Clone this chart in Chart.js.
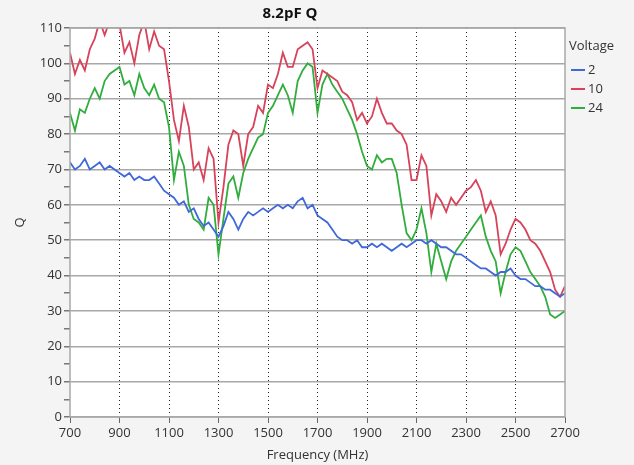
<!DOCTYPE html>
<html>
<head>
<meta charset="utf-8">
<script src="https://cdn.jsdelivr.net/npm/chart.js@4.4.0/dist/chart.umd.min.js"></script>
<style>
    html, body { margin: 0; padding: 0; background: #f4f4f4; }
    #wrap { width: 634px; height: 465px; }
</style>
</head>
<body>
<div id="wrap"><canvas id="qChart" width="634" height="465"></canvas></div>
<script>
// Q vs frequency, 8.2pF, three bias voltages (one value every 20 MHz, 700..2700)
const voltages = ['2', '10', '24'];
const freqStart = 700;
const freqStep = 20;
const xTicks = [700, 900, 1100, 1300, 1500, 1700, 1900, 2100, 2300, 2500, 2700];

const q2 = [
    72, 70, 71, 73, 70, 71, 72, 70, 71, 70,
    69, 68, 69, 67, 68, 67, 67, 68, 66, 64,
    63, 62, 60, 61, 58, 59, 56, 54, 55, 53,
    51, 54, 58, 56, 53, 56, 58, 57, 58, 59,
    58, 59, 60, 59, 60, 59, 61, 62, 59, 60,
    57, 56, 55, 53, 51, 50, 50, 49, 50, 48,
    48, 49, 48, 49, 48, 47, 48, 49, 48, 49,
    50, 50, 49, 50, 49, 48, 48, 47, 46, 46,
    45, 44, 43, 42, 42, 41, 40, 41, 41, 42,
    40, 39, 39, 38, 37, 37, 36, 36, 35, 34,
    35
];
const q10 = [
    103, 97, 101, 98, 104, 107, 112, 108, 112, 113,
    111, 103, 106, 100, 108, 112, 104, 109, 105, 104,
    95, 84, 78, 88, 82, 70, 72, 67, 76, 73,
    55, 65, 77, 81, 80, 71, 80, 82, 88, 86,
    94, 93, 97, 103, 99, 99, 104, 105, 106, 104,
    93, 98, 97, 96, 95, 92, 91, 89, 84, 86,
    83, 85, 90, 86, 83, 83, 81, 80, 77, 67,
    67, 74, 71, 57, 63, 61, 58, 62, 60, 62,
    64, 65, 67, 64, 58, 61, 57, 46, 49, 53,
    56, 55, 53, 50, 49, 47, 44, 41, 36, 34,
    37
];
const q24 = [
    86, 81, 87, 86, 90, 93, 90, 95, 97, 98,
    99, 94, 95, 91, 97, 93, 91, 94, 90, 89,
    82, 67, 75, 71, 60, 56, 55, 53, 62, 60,
    46, 56, 66, 68, 62, 69, 73, 76, 79, 80,
    86, 88, 91, 94, 91, 86, 95, 98, 100, 99,
    86, 94, 97, 94, 92, 90, 87, 84, 80, 75,
    71, 70, 74, 72, 73, 73, 69, 60, 52, 50,
    53, 59, 52, 41, 49, 44, 39, 44, 47, 49,
    51, 53, 55, 57, 51, 47, 44, 35, 41, 46,
    48, 47, 44, 41, 39, 37, 34, 29, 28, 29,
    30
];

const seriesColors = ['#4068d8', '#d8425a', '#30ad3c'];

function toPoints(values) {
    return values.map((v, i) => ({ x: freqStart + i * freqStep, y: v }));
}

const fontFamily = '"Open Sans", "Noto Sans", sans-serif';

// background: grey page, white plot area, grey frame, title and legend
const plotBg = {
    id: 'plotBg',
    beforeDraw(chart) {
        const { ctx, chartArea: a } = chart;
        ctx.save();
        ctx.fillStyle = '#f4f4f4';
        ctx.fillRect(0, 0, chart.width, chart.height);
        ctx.fillStyle = '#ffffff';
        ctx.fillRect(a.left, a.top, a.right - a.left, a.bottom - a.top);
        ctx.restore();
    },
    afterDraw(chart) {
        const { ctx, chartArea: a } = chart;
        ctx.save();
        ctx.strokeStyle = '#a8a8a8';
        ctx.lineWidth = 1.5;
        ctx.strokeRect(a.left, a.top, a.right - a.left, a.bottom - a.top);

        // title
        ctx.fillStyle = '#111';
        ctx.font = 'bold 15px ' + fontFamily;
        ctx.textAlign = 'center';
        ctx.textBaseline = 'middle';
        ctx.fillText('8.2pF Q', 290, 14);

        // legend
        ctx.textAlign = 'left';
        ctx.font = '13px ' + fontFamily;
        ctx.fillStyle = '#333';
        ctx.fillText('Voltage', 569, 46);
        chart.data.datasets.forEach((ds, i) => {
            const y = 70 + i * 19;
            ctx.strokeStyle = ds.borderColor;
            ctx.lineWidth = 2;
            ctx.beginPath();
            ctx.moveTo(571, y);
            ctx.lineTo(585, y);
            ctx.stroke();
            ctx.fillStyle = '#333';
            ctx.fillText(ds.label, 588, y);
        });
        ctx.restore();
    }
};

const ctx = document.getElementById('qChart').getContext('2d');
new Chart(ctx, {
    type: 'line',
    data: {
        datasets: voltages.map((v, i) => ({
            label: v,
            data: toPoints([q2, q10, q24][i]),
            borderColor: seriesColors[i],
            backgroundColor: seriesColors[i],
            borderWidth: 1.8,
            pointRadius: 0,
            tension: 0
        }))
    },
    options: {
        responsive: false,
        animation: false,
        devicePixelRatio: 1,
        layout: { padding: { left: 0, top: 28, right: 69, bottom: 0 } },
        plugins: {
            legend: { display: false },
            title: { display: false },
            tooltip: { enabled: false }
        },
        scales: {
            x: {
                type: 'linear',
                min: 700,
                max: 2700,
                afterBuildTicks(scale) {
                    scale.ticks = xTicks.map(v => ({ value: v }));
                },
                afterFit(scale) { scale.height = 48; },
                grid: {
                    color: c => (c.tick && (c.tick.value === 700 || c.tick.value === 2700)) ? 'rgba(0,0,0,0)' : '#222',
                    lineWidth: 1,
                    tickColor: '#666',
                    tickLength: 6
                },
                border: { display: false, dash: [1, 3] },
                ticks: {
                    autoSkip: false,
                    maxRotation: 0,
                    padding: 2,
                    color: '#333',
                    font: { family: fontFamily, size: 13 },
                    callback: v => String(v)
                },
                title: {
                    display: true,
                    text: 'Frequency (MHz)',
                    color: '#333',
                    padding: { top: 0, bottom: 2 },
                    font: { family: fontFamily, size: 13 }
                }
            },
            y: {
                min: 0,
                max: 110,
                afterFit(scale) { scale.width = 70; },
                grid: {
                    color: c => (c.tick && c.tick.value % 10 === 0) ? '#a8a8a8' : 'rgba(0,0,0,0)',
                    lineWidth: 1.5,
                    tickColor: '#777',
                    tickLength: 6
                },
                border: { display: false },
                ticks: {
                    stepSize: 5,
                    autoSkip: false,
                    padding: 2,
                    color: '#333',
                    font: { family: fontFamily, size: 13 },
                    callback: v => (v % 10 === 0 ? String(v) : '')
                },
                title: {
                    display: true,
                    text: 'Q',
                    color: '#333',
                    padding: { top: 12, bottom: 0 },
                    font: { family: fontFamily, size: 13 }
                }
            }
        }
    },
    plugins: [plotBg]
});
</script>
</body>
</html>
